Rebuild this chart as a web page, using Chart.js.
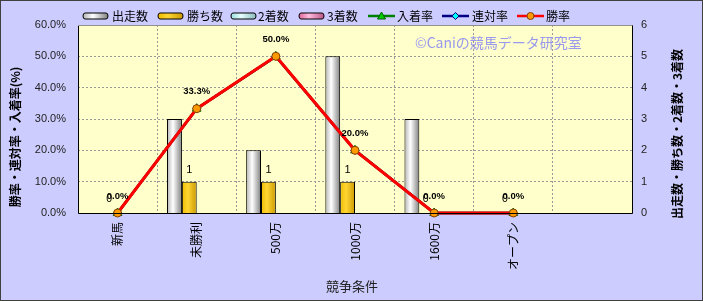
<!DOCTYPE html>
<html><head><meta charset="utf-8">
<script src="https://cdn.jsdelivr.net/npm/chart.js@4/dist/chart.umd.min.js"></script>
<style>html,body{margin:0;padding:0;background:#CCCCFF;}canvas{display:block}</style>
</head><body>
<canvas id="c" width="703" height="301"></canvas>
<script>
const categories = ['新馬','未勝利','500万','1000万','1600万','オープン',''];
const starts   = [0,3,2,5,3,0,null];
const wins     = [0,1,1,1,0,0,null];
const seconds  = [0,0,0,0,0,0,null];
const thirds   = [0,0,0,0,0,0,null];
const placeRate  = [0,33.3,50.0,20.0,0,0,null];
const rentaiRate = [0,33.3,50.0,20.0,0,0,null];
const winRate    = [0,33.3,50.0,20.0,0,0,null];
const leftMax = 60, leftStep = 10;
const rightMax = 6, rightStep = 1;
const legendLabels = ['出走数','勝ち数','2着数','3着数','入着率','連対率','勝率'];
const leftTitle = '勝率・連対率・入着率(%)';
const rightTitle = '出走数・勝ち数・2着数・3着数';
const xTitle = '競争条件';
const watermark = '©Caniの競馬データ研究室';

const JP = '"Noto Sans CJK JP"';
const LS = '"Liberation Sans"';

const gradStops = {
  starts: [[0,'#b4b4b4'],[0.4,'#ffffff'],[1,'#808080']],
  wins:   [[0,'#eebb00'],[0.4,'#ffd633'],[1,'#cc9900']],
  seconds:[[0,'#99dddd'],[0.4,'#e8ffff'],[1,'#88bbbb']],
  thirds: [[0,'#dd6699'],[0.4,'#ffbbdd'],[1,'#bb5588']]
};
function makeGrad(ctx, x0, x1, stops){
  const g = ctx.createLinearGradient(x0,0,x1,0);
  stops.forEach(s=>g.addColorStop(s[0],s[1]));
  return g;
}

const bgPlugin = {
  id:'bg',
  beforeDraw(chart){
    const ctx = chart.ctx, a = chart.chartArea;
    ctx.save();
    ctx.fillStyle = '#CCCCFF';
    ctx.fillRect(0,0,chart.width,chart.height);
    ctx.fillStyle = '#FFFFCC';
    ctx.fillRect(a.left,a.top,a.right-a.left,a.bottom-a.top);
    ctx.restore();
  },
  beforeDatasetsDraw(chart){
    const ctx = chart.ctx;
    const keys = ['starts','wins','seconds','thirds'];
    keys.forEach((k,di)=>{
      const meta = chart.getDatasetMeta(di);
      meta.data.forEach(el=>{
        if(!el || el.width==null || isNaN(el.x)) return;
        el.options = Object.assign({}, el.options, {
          backgroundColor: makeGrad(ctx, el.x-el.width/2, el.x+el.width/2, gradStops[k])
        });
      });
    });
  },
  afterDatasetsDraw(chart){
    const ctx = chart.ctx;
    ctx.save();
    ctx.fillStyle = '#000';
    ctx.textBaseline = 'middle';
    const mWin = chart.getDatasetMeta(6);
    const mWins = chart.getDatasetMeta(1);
    winRate.forEach((v,i)=>{
      if(v==null) return;
      const p = mWin.data[i];
      ctx.font = 'bold 9.5px ' + LS;
      ctx.textAlign = 'center';
      const txt = v.toFixed(1)+'%';
      ctx.fillText(txt, p.x, p.y-17);
      if(wins[i]===0){
        const w = ctx.measureText(txt).width;
        ctx.font = '10.5px ' + LS;
        ctx.textAlign = 'left';
        ctx.fillText(String(wins[i]), p.x - w/2 - 0.5, p.y-14);
      }
    });
    wins.forEach((v,i)=>{
      if(v==null || v===0) return;
      ctx.font = '11px ' + LS;
      ctx.textAlign = 'center';
      const b = mWins.data[i];
      ctx.fillText(String(v), b.x, b.y-12);
    });
    ctx.restore();
  },
  afterDraw(chart){
    const ctx = chart.ctx, a = chart.chartArea;
    ctx.save();
    ctx.strokeStyle = '#000';
    ctx.lineWidth = 1;
    ctx.beginPath();
    ctx.moveTo(a.left+0.5, a.top); ctx.lineTo(a.left+0.5, a.bottom+0.5);
    ctx.lineTo(a.right+0.5, a.bottom+0.5); ctx.lineTo(a.right+0.5, a.top+0.5);
    ctx.stroke();
    ctx.strokeStyle = '#909090';
    ctx.beginPath(); ctx.moveTo(a.left, a.top+0.5); ctx.lineTo(a.right, a.top+0.5); ctx.stroke();
    // watermark
    ctx.fillStyle = '#9999EE';
    ctx.font = '14px ' + JP;
    ctx.textAlign = 'left'; ctx.textBaseline = 'middle';
    ctx.fillText(watermark, 415, 43);
    // axis titles
    ctx.fillStyle = '#000';
    ctx.font = 'bold 12px ' + JP;
    ctx.textAlign = 'center'; ctx.textBaseline = 'middle';
    ctx.save(); ctx.translate(15,137); ctx.rotate(-Math.PI/2); ctx.fillText(leftTitle,0,0); ctx.restore();
    ctx.save(); ctx.translate(677,134); ctx.rotate(-Math.PI/2); ctx.fillText(rightTitle,0,0); ctx.restore();
    ctx.fillStyle = '#222';
    ctx.font = '13px ' + JP;
    ctx.fillText(xTitle, 352, 286);
    // legend
    const items = [
      {t:'bar',k:'starts',bx:83,tx:112},
      {t:'bar',k:'wins',bx:158,tx:187},
      {t:'bar',k:'seconds',bx:231,tx:258},
      {t:'bar',k:'thirds',bx:299,tx:327},
      {t:'line',c:'#008000',m:'tri',mc:'#00CC00',mb:'#006000',bx:368,tx:397},
      {t:'line',c:'#000080',m:'dia',mc:'#00FFFF',mb:'#000080',bx:442,tx:472},
      {t:'line',c:'#FF0000',m:'cir',mc:'#FF9900',mb:'#804000',bx:517,tx:546}
    ];
    const ly = 16;
    items.forEach((it,i)=>{
      if(it.t==='bar'){
        const x=it.bx,y=ly-3,w=25,h=6;
        ctx.fillStyle = makeGrad(ctx,x,x+w,gradStops[it.k]);
        ctx.strokeStyle = '#000';
        ctx.lineWidth = 1;
        ctx.beginPath();
        ctx.moveTo(x+2,y); ctx.lineTo(x+w-2,y); ctx.quadraticCurveTo(x+w,y,x+w,y+3);
        ctx.quadraticCurveTo(x+w,y+h,x+w-2,y+h); ctx.lineTo(x+2,y+h);
        ctx.quadraticCurveTo(x,y+h,x,y+3); ctx.quadraticCurveTo(x,y,x+2,y);
        ctx.closePath(); ctx.fill(); ctx.stroke();
      } else {
        ctx.strokeStyle = it.c; ctx.lineWidth = 2.5;
        ctx.beginPath(); ctx.moveTo(it.bx,ly); ctx.lineTo(it.bx+27,ly); ctx.stroke();
        ctx.lineWidth = 1;
        const cx = it.bx+13.5;
        ctx.fillStyle = it.mc; ctx.strokeStyle = it.mb;
        ctx.beginPath();
        if(it.m==='tri'){ ctx.moveTo(cx,ly-4); ctx.lineTo(cx+4,ly+3); ctx.lineTo(cx-4,ly+3); ctx.closePath(); }
        else if(it.m==='dia'){ ctx.moveTo(cx,ly-3.5); ctx.lineTo(cx+3.5,ly); ctx.lineTo(cx,ly+3.5); ctx.lineTo(cx-3.5,ly); ctx.closePath(); }
        else { ctx.arc(cx,ly,3.5,0,Math.PI*2); }
        ctx.fill(); ctx.stroke();
      }
      ctx.fillStyle = '#000';
      ctx.font = '12px ' + JP;
      ctx.textAlign = 'left'; ctx.textBaseline = 'middle';
      ctx.fillText(legendLabels[i], it.tx, ly);
    });
    ctx.strokeStyle = '#404040';
    ctx.lineWidth = 1;
    ctx.strokeRect(0.5,0.5,chart.width-1,chart.height-1);
    ctx.restore();
  }
};

const barDs = (label,data,order)=>({type:'bar',label,data,yAxisID:'y1',order,
  borderColor:'#000',borderWidth:1,backgroundColor:'#fff',categoryPercentage:0.75,barPercentage:1.0});

new Chart(document.getElementById('c'),{
  data:{
    labels:categories,
    datasets:[
      barDs(legendLabels[0],starts,10),
      barDs(legendLabels[1],wins,11),
      barDs(legendLabels[2],seconds,12),
      barDs(legendLabels[3],thirds,13),
      {type:'line',label:legendLabels[4],data:placeRate,yAxisID:'y',order:3,borderColor:'#008000',borderWidth:2.5,
        pointStyle:'triangle',pointRadius:5,pointBackgroundColor:'#00CC00',pointBorderColor:'#006000',pointBorderWidth:1,clip:false},
      {type:'line',label:legendLabels[5],data:rentaiRate,yAxisID:'y',order:2,borderColor:'#000080',borderWidth:2.5,
        pointStyle:'rectRot',pointRadius:4,pointBackgroundColor:'#00FFFF',pointBorderColor:'#000080',pointBorderWidth:1,clip:false},
      {type:'line',label:legendLabels[6],data:winRate,yAxisID:'y',order:1,borderColor:'#FF0000',borderWidth:3,
        pointStyle:'circle',pointRadius:4,pointBackgroundColor:'#FF9900',pointBorderColor:'#804000',pointBorderWidth:1,clip:false}
    ]
  },
  options:{
    responsive:false,animation:false,devicePixelRatio:1,
    layout:{padding:{top:25,left:0,right:0,bottom:0}},
    plugins:{legend:{display:false},tooltip:{enabled:false}},
    scales:{
      x:{type:'category',offset:true,
        grid:{offset:true,color:'#999',drawTicks:false},
        border:{display:false,dash:[2,2]},
        ticks:{maxRotation:90,minRotation:90,padding:9,color:'#000',font:{family:'Noto Sans CJK JP',size:12}},
        afterFit(s){s.height=88;}},
      y:{position:'left',min:0,max:leftMax,
        grid:{color:'#999',drawTicks:false},
        border:{display:false,dash:[2,2]},
        ticks:{stepSize:leftStep,padding:12,color:'#222',font:{family:'Liberation Sans',size:11},
          callback:v=>v.toFixed(1)+'%'},
        afterFit(s){s.width=78;}},
      y1:{position:'right',min:0,max:rightMax,
        grid:{display:false,drawTicks:false},
        border:{display:false},
        ticks:{stepSize:rightStep,padding:9,color:'#222',font:{family:'Liberation Sans',size:11}},
        afterFit(s){s.width=71;}}
    }
  },
  plugins:[bgPlugin]
});
</script>
</body></html>
